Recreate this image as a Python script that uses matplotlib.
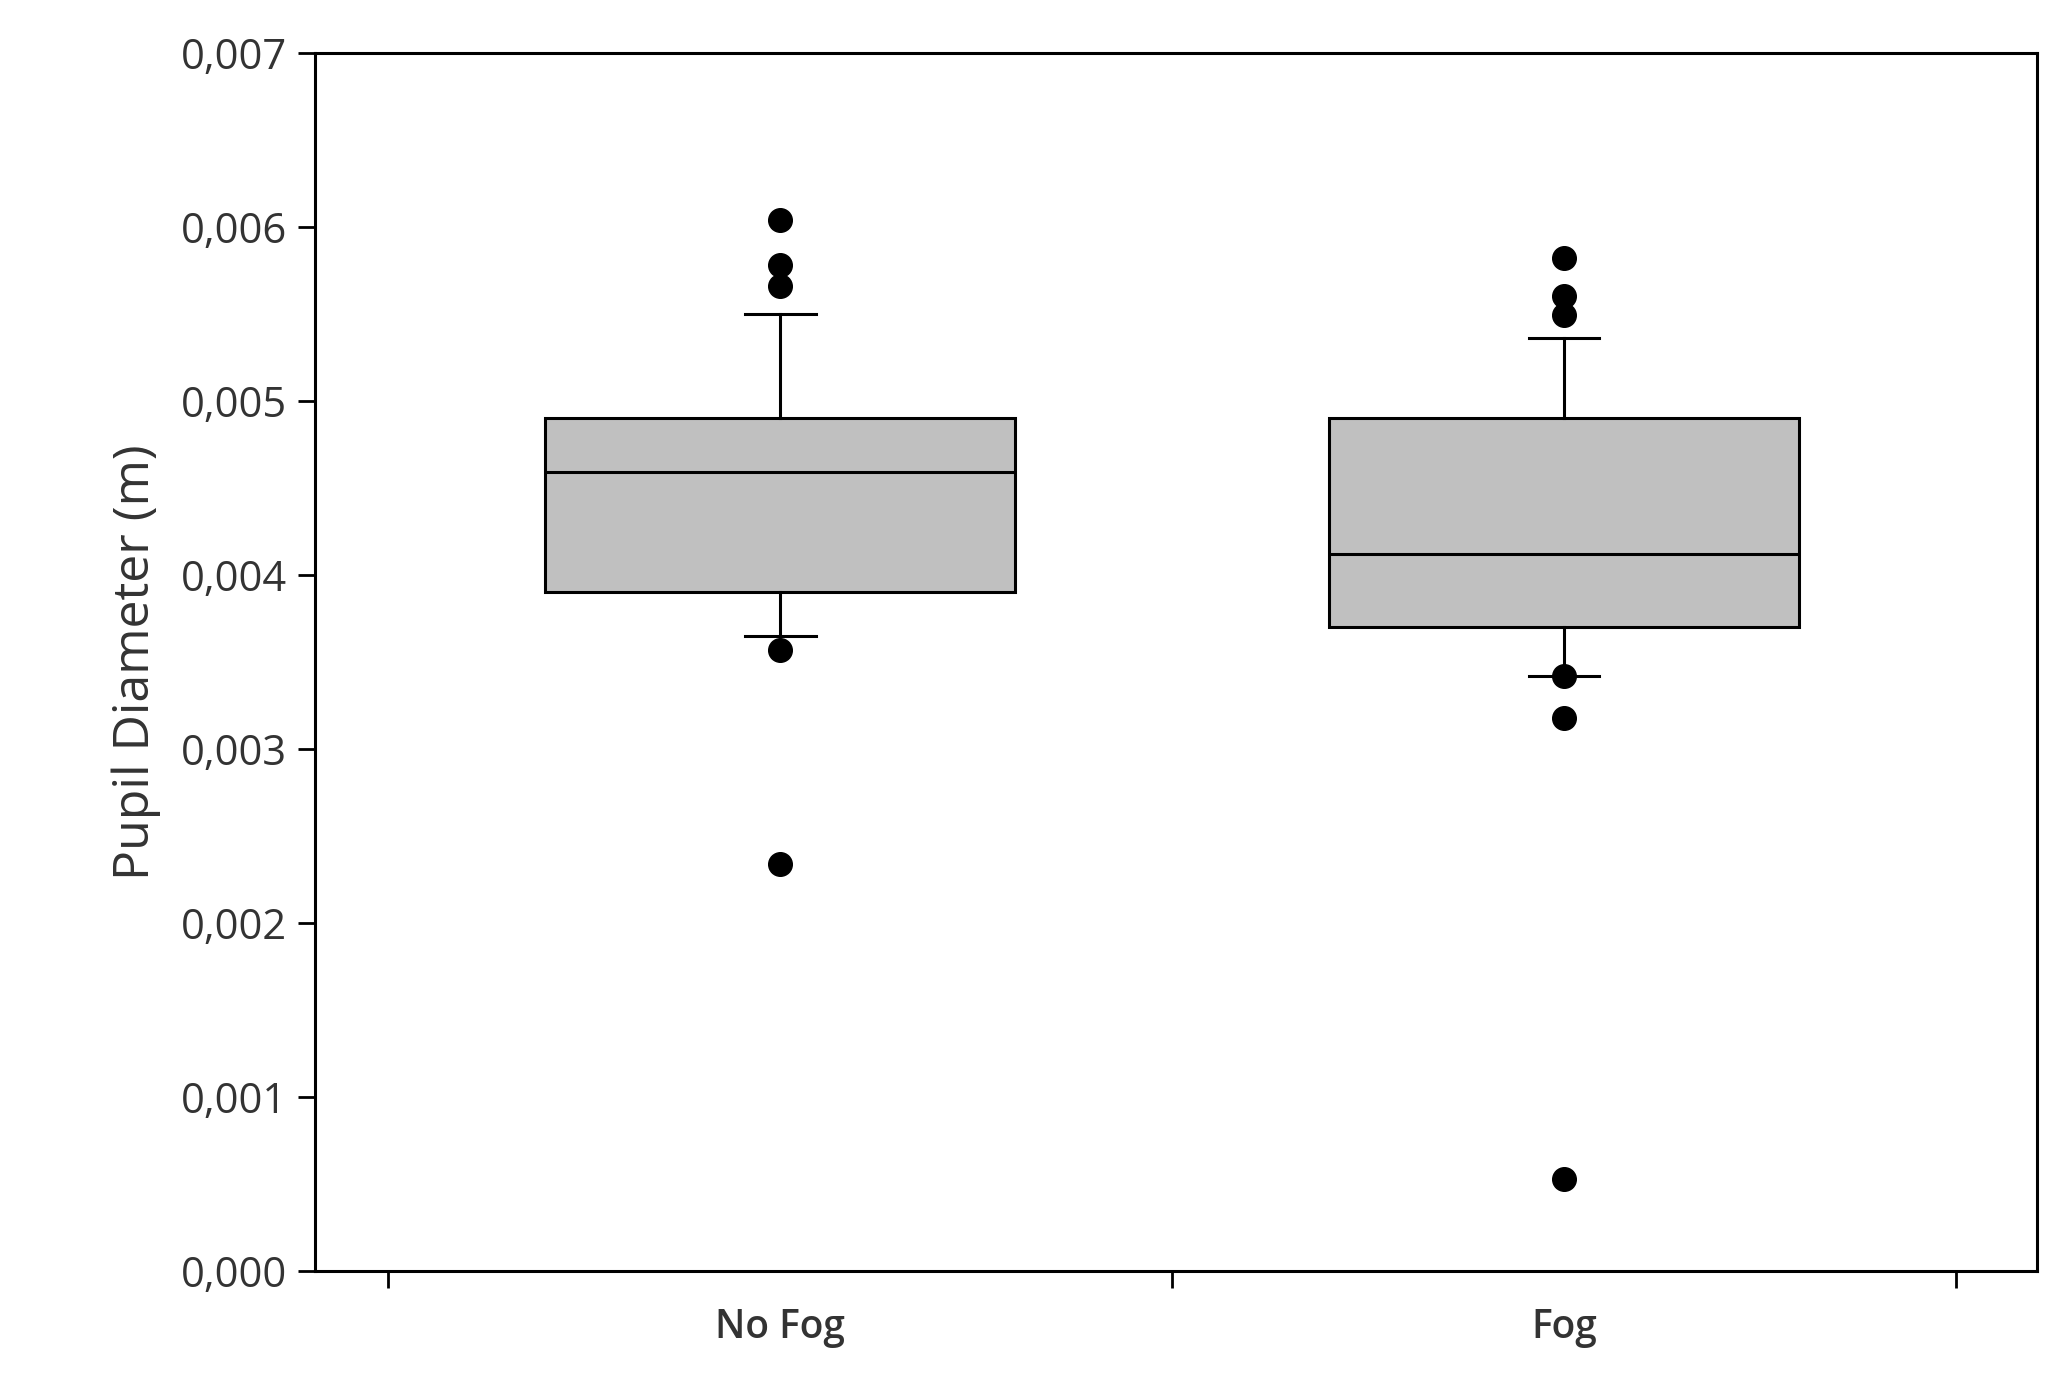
import matplotlib
matplotlib.use("Agg")
import matplotlib.pyplot as plt
from matplotlib.ticker import FuncFormatter

categories = ["No Fog", "Fog"]
q1 = [0.00390, 0.00370]
med = [0.00459, 0.00412]
q3 = [0.00490, 0.00490]
whislo = [0.00365, 0.00342]
whishi = [0.00550, 0.00536]
fliers = [
    [0.00604, 0.00578, 0.00566, 0.00357, 0.00234],
    [0.00582, 0.00560, 0.00549, 0.00342, 0.00318, 0.00053],
]

plt.rcParams['font.family'] = ['Open Sans', 'DejaVu Sans']
fig = plt.figure(figsize=(20.7, 13.82), dpi=100)
ax = fig.add_axes([0.152, 0.080, 0.832, 0.882])

stats = []
for i in range(len(categories)):
    stats.append(dict(q1=q1[i], med=med[i], q3=q3[i], whislo=whislo[i],
                      whishi=whishi[i], fliers=fliers[i], label=categories[i]))

ax.bxp(stats, positions=[1, 2], widths=0.6, patch_artist=True, capwidths=0.09,
       boxprops=dict(facecolor="#c0c0c0", edgecolor="black", linewidth=2.2),
       medianprops=dict(color="black", linewidth=2.2),
       whiskerprops=dict(color="black", linewidth=2.2),
       capprops=dict(color="black", linewidth=2.2),
       flierprops=dict(marker="o", markerfacecolor="black", markeredgecolor="black", markersize=17))

ax.set_ylim(0, 0.007)
ax.set_xlim(0.406, 2.603)
ax.set_yticks([i * 0.001 for i in range(8)])
ax.yaxis.set_major_formatter(FuncFormatter(lambda v, p: f"{v:.3f}".replace(".", ",")))
ax.set_xticks([0.5, 1.5, 2.5])
ax.set_xticklabels([])
ax.set_xticks([1, 2], minor=True)
ax.set_xticklabels(categories, minor=True, fontweight="semibold")
ax.tick_params(axis="x", which="minor", length=0, pad=26, labelsize=28, labelcolor="#333333")
ax.tick_params(axis="x", which="major", length=12, width=2)
ax.tick_params(axis="y", length=12, width=2, labelsize=30, labelcolor="#333333", pad=8)
for s in ax.spines.values():
    s.set_linewidth(2.2)
ax.set_ylabel("Pupil Diameter (m)", fontsize=36, color="#333333", labelpad=14)

fig.savefig("out.png", dpi=100)
